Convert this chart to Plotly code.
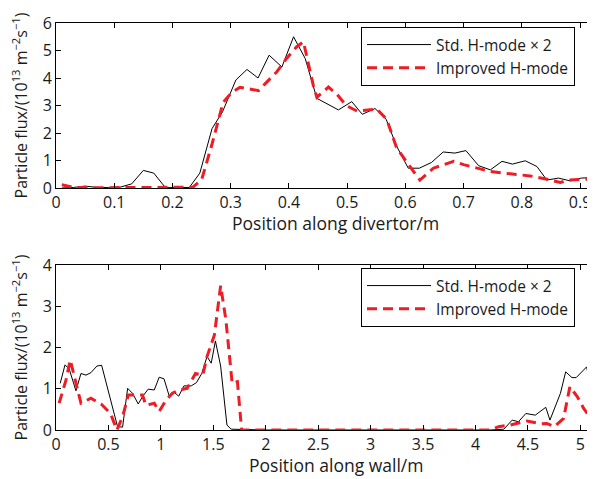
import plotly.graph_objects as go

# ---- Top panel: divertor ----
div_x_std = [0.01, 0.03, 0.05, 0.07, 0.09, 0.11, 0.13, 0.15, 0.168, 0.188, 0.208, 0.229, 0.247,
             0.268, 0.286, 0.309, 0.328, 0.347, 0.366, 0.388, 0.408, 0.428, 0.448, 0.467, 0.485,
             0.508, 0.526, 0.548, 0.567, 0.585, 0.605, 0.624, 0.645, 0.665, 0.685, 0.704, 0.726,
             0.746, 0.766, 0.784, 0.806, 0.826, 0.843, 0.863, 0.883, 0.902, 0.924]
div_std = [0.0, 0.02, 0.07, 0.02, 0.02, 0.03, 0.15, 0.64, 0.54, 0.01, 0.02, 0.02, 0.54,
           2.16, 2.77, 3.93, 4.31, 4.0, 4.83, 4.4, 5.5, 4.71, 3.26, 3.05, 2.84,
           3.14, 2.68, 2.89, 2.5, 1.52, 0.72, 0.72, 0.93, 1.31, 1.27, 1.36, 0.81,
           0.66, 0.97, 0.87, 0.99, 0.78, 0.29, 0.36, 0.26, 0.36, 0.38]

div_x_imp = [0.01, 0.03, 0.07, 0.12, 0.17, 0.21, 0.235, 0.25, 0.268, 0.287, 0.302, 0.316, 0.333,
             0.348, 0.362, 0.379, 0.396, 0.413, 0.425, 0.442, 0.448, 0.468, 0.482, 0.499, 0.517,
             0.551, 0.568, 0.585, 0.612, 0.625, 0.648, 0.683, 0.7, 0.723, 0.746, 0.769, 0.814,
             0.843, 0.866, 0.88, 0.924]
div_imp = [0.12, 0.02, 0.01, 0.01, 0.01, 0.02, 0.03, 0.29, 1.6, 3.11, 3.48, 3.66, 3.6,
           3.54, 3.85, 4.22, 4.71, 5.13, 5.32, 3.72, 3.3, 3.67, 3.42, 2.99, 2.8,
           2.87, 2.5, 1.46, 0.66, 0.29, 0.72, 0.97, 0.85, 0.72, 0.6, 0.54, 0.44,
           0.32, 0.2, 0.29, 0.33]

# ---- Bottom panel: wall ----
wall_x_std = [0.04, 0.086, 0.127, 0.19, 0.238, 0.286, 0.333, 0.39, 0.435, 0.587, 0.635, 0.683,
              0.73, 0.784, 0.825, 0.879, 0.937, 0.984, 1.03, 1.08, 1.12, 1.17, 1.22, 1.29, 1.34,
              1.39, 1.44, 1.48, 1.52, 1.57, 1.63, 1.67, 2.0, 3.0, 4.0, 4.14, 4.27, 4.35, 4.41,
              4.48, 4.57, 4.67, 4.71, 4.81, 4.86, 4.92, 4.96, 5.06, 5.13]
wall_std = [1.13, 1.58, 1.47, 0.95, 1.37, 1.33, 1.39, 1.55, 1.57, 0.08, 0.07, 1.01,
            0.89, 0.63, 0.81, 0.99, 0.97, 1.28, 1.24, 0.82, 0.93, 0.82, 1.07, 1.07, 1.15,
            1.37, 1.78, 1.62, 2.16, 1.55, 0.12, 0.02, 0.0, 0.0, 0.0, 0.0, 0.02, 0.24, 0.2,
            0.4, 0.36, 0.55, 0.24, 0.89, 1.41, 1.27, 1.27, 1.53, 0.57]

wall_x_imp = [0.03, 0.095, 0.136, 0.17, 0.238, 0.333, 0.43, 0.52, 0.58, 0.635, 0.69, 0.746,
              0.825, 0.857, 0.937, 0.984, 1.05, 1.11, 1.17, 1.25, 1.33, 1.4, 1.44, 1.51, 1.57,
              1.62, 1.68, 1.73, 1.77, 2.5, 3.5, 4.14, 4.22, 4.33, 4.49, 4.62, 4.68, 4.75,
              4.84, 4.9, 4.97, 5.03, 5.11, 5.13]
wall_imp = [0.65, 1.21, 1.7, 1.33, 0.65, 0.77, 0.63, 0.4, 0.0, 0.32, 0.85, 0.85,
            0.85, 0.6, 0.65, 0.45, 0.73, 0.89, 0.97, 1.01, 1.37, 1.33, 1.78, 2.3, 3.5,
            2.67, 1.13, 1.17, 0.0, 0.0, 0.0, 0.0, 0.08, 0.12, 0.22, 0.15, 0.16, 0.08,
            0.28, 1.05, 0.81, 0.53, 0.24, 0.2]

name_std = "Std. H-mode \u00d7 2"
name_imp = "Improved H-mode"
ylab = "Particle flux/(10<sup>13</sup> m<sup>\u22122</sup>s<sup>\u22121</sup>)"
xlab_top = "Position along divertor/m"
xlab_bot = "Position along wall/m"

RED = "#ee1c25"
FONT = "Open Sans"
FS = 16
TXT = "#1a1a1a"

fig = go.Figure()
fig.add_trace(go.Scatter(x=div_x_std, y=div_std, mode="lines", name=name_std,
                         line=dict(color="black", width=1), xaxis="x", yaxis="y", legend="legend"))
fig.add_trace(go.Scatter(x=div_x_imp, y=div_imp, mode="lines", name=name_imp,
                         line=dict(color=RED, width=3, dash="10px,6px"), xaxis="x", yaxis="y", legend="legend"))
fig.add_trace(go.Scatter(x=wall_x_std, y=wall_std, mode="lines", name=name_std,
                         line=dict(color="black", width=1), xaxis="x2", yaxis="y2", legend="legend2"))
fig.add_trace(go.Scatter(x=wall_x_imp, y=wall_imp, mode="lines", name=name_imp,
                         line=dict(color=RED, width=3, dash="10px,6px"), xaxis="x2", yaxis="y2", legend="legend2"))

axis_common = dict(showline=True, linecolor="black", linewidth=1, mirror="ticks",
                   ticks="inside", ticklen=5, tickcolor="black", showgrid=False, zeroline=False,
                   automargin=False,
                   tickfont=dict(family=FONT, size=FS, color=TXT))

# page body has an 8px margin: figure occupies window x 8..595, y 8..479
H = 471 - 15 - 49
top_dom = [1 - 165 / H, 1]
bot_dom = [0, 165 / H]
tfont = dict(family=FONT, size=FS, color=TXT)
xtfont = dict(family=FONT, size=17.5, color=TXT)
lfont = dict(family=FONT, size=15.5, color=TXT)

fig.update_layout(
    width=587, height=471,
    margin=dict(l=48, r=1, t=15, b=49),
    paper_bgcolor="white", plot_bgcolor="white",
    font=dict(family=FONT, size=FS, color=TXT),
    xaxis=dict(axis_common, domain=[0, 1], range=[0, 0.924],
               tickvals=[0, 0.1, 0.2, 0.3, 0.4, 0.5, 0.6, 0.7, 0.8, 0.9], anchor="y"),
    yaxis=dict(axis_common, domain=top_dom, range=[0, 6], dtick=1, anchor="x",
               title=dict(text=ylab, standoff=11, font=tfont)),
    xaxis2=dict(axis_common, domain=[0, 1], range=[0, 5.13], dtick=0.5, anchor="y2"),
    yaxis2=dict(axis_common, domain=bot_dom, range=[0, 4], dtick=1, anchor="x2",
                title=dict(text=ylab, standoff=11, font=tfont)),
    legend=dict(x=(361 - 56) / 538, xanchor="left", y=1 - 4 / H, yanchor="top",
                bgcolor="white", bordercolor="black", borderwidth=1,
                font=lfont, itemwidth=64, tracegroupgap=0),
    legend2=dict(x=(361 - 56) / 538, xanchor="left", y=165 / H - 3 / H, yanchor="top",
                 bgcolor="white", bordercolor="black", borderwidth=1,
                 font=lfont, itemwidth=64, tracegroupgap=0),
    showlegend=True,
    annotations=[
        dict(text=xlab_top, xref="x domain", yref="y domain", x=0.52, y=0,
             xanchor="center", yanchor="middle", yshift=-35, showarrow=False, font=xtfont),
        dict(text=xlab_bot, xref="x2 domain", yref="y2 domain", x=0.52, y=0,
             xanchor="center", yanchor="middle", yshift=-35, showarrow=False, font=xtfont),
    ],
)

fig.write_html("out.html")
